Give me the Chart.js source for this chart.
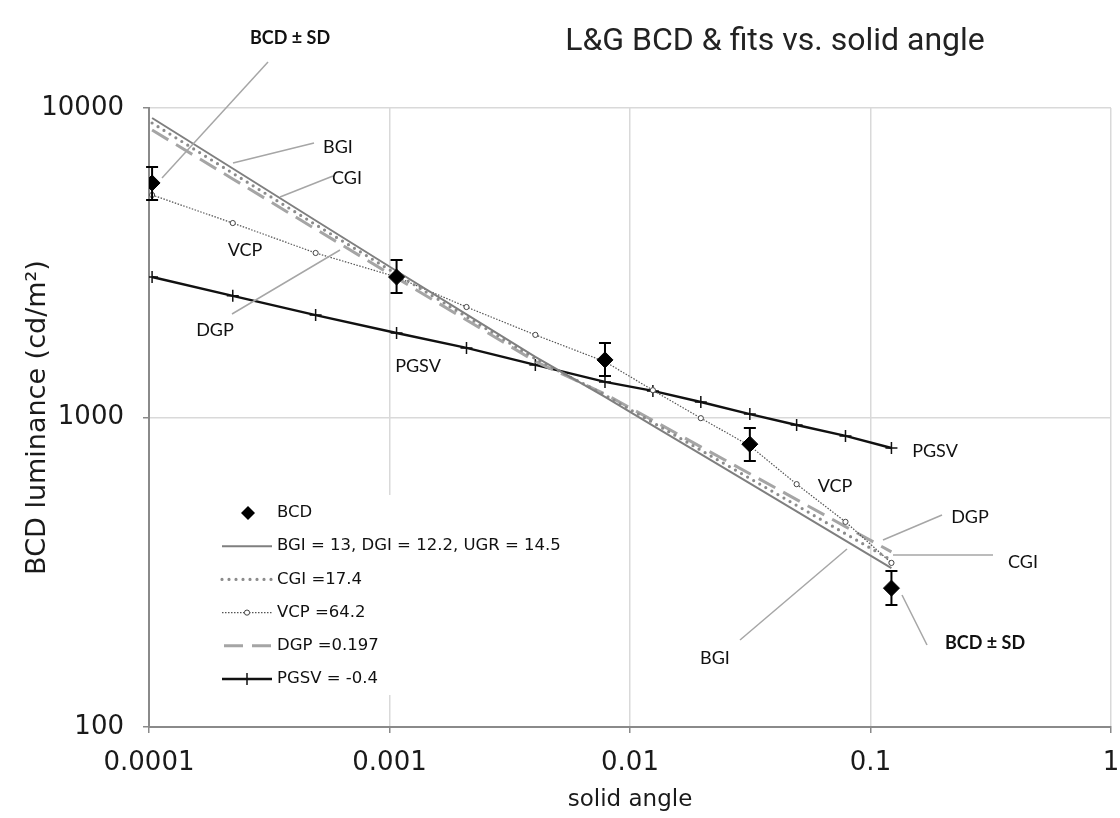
<!DOCTYPE html>
<html>
<head>
<meta charset="utf-8">
<script src="https://cdn.jsdelivr.net/npm/chart.js@4.4.1/dist/chart.umd.min.js"></script>
<style>
  html, body { margin: 0; padding: 0; background: #fff; }
</style>
</head>
<body>
<canvas id="chart" width="1120" height="818"></canvas>
<script>
// solid angles at which the fits are evaluated
const solidAngle = [1.03e-4, 2.23e-4, 4.93e-4, 1.07e-3, 2.09e-3, 4.04e-3, 7.87e-3, 0.01245, 0.0197, 0.0315, 0.0493, 0.0787, 0.1222];
const bgi  = [9284, 6375, 4330, 2974, 2154, 1569, 1165, 941, 761, 613, 497, 400, 326];
const cgi  = [8944, 6156, 4198, 2908, 2117, 1548, 1182, 963, 784, 636, 520, 421, 346];
const vcp  = [5236, 4249, 3401, 2844, 2275, 1849, 1515, 1225, 995, 810, 609, 460, 339];
const dgp  = [8489, 5900, 4062, 2823, 2065, 1518, 1191, 979, 804, 658, 543, 444, 368];
const pgsv = [2844, 2472, 2143, 1875, 1678, 1479, 1303, 1219, 1122, 1026, 946, 872, 797];

// measured BCD with +/- SD
const bcdAngle = [1.03e-4, 1.07e-3, 7.87e-3, 0.0315, 0.1222];
const bcd   = [5725, 2843, 1535, 820, 281];
const bcdHi = [6450, 3228, 1741, 925, 319];
const bcdLo = [5045, 2523, 1361, 723, 248];

const xTicks = [0.0001, 0.001, 0.01, 0.1, 1];
const xLabels = ['0.0001', '0.001', '0.01', '0.1', '1'];
const yTicks = [100, 1000, 10000];
const yLabels = ['100', '1000', '10000'];

const legendLabels = ['BCD', 'BGI = 13, DGI = 12.2, UGR = 14.5', 'CGI =17.4', 'VCP =64.2', 'DGP =0.197', 'PGSV = -0.4'];

const pts = (xs, ys) => xs.map((x, i) => ({ x: x, y: ys[i] }));

const tickFont = { family: 'DejaVu Sans', size: 26 };
const labelFont = '18px Lato, "Open Sans", sans-serif';
const boldFont = 'bold 18px Lato, "Open Sans", sans-serif';

// callout labels with leader lines (canvas px)
const callouts = [
    { text: 'BCD ± SD', x: 290, y: 38, bold: true, line: [268, 62, 162, 178] },
    { text: 'BGI', x: 338, y: 147, line: [314, 143, 233, 163] },
    { text: 'CGI', x: 347, y: 178, line: [333, 176, 280, 197] },
    { text: 'VCP', x: 245, y: 250 },
    { text: 'DGP', x: 215, y: 330, line: [232, 314, 340, 250] },
    { text: 'PGSV', x: 418, y: 366 },
    { text: 'PGSV', x: 935, y: 451 },
    { text: 'VCP', x: 835, y: 486 },
    { text: 'DGP', x: 970, y: 517, line: [942, 515, 883, 540] },
    { text: 'CGI', x: 1023, y: 562, line: [893, 555, 993, 555] },
    { text: 'BGI', x: 715, y: 658, line: [847, 549, 740, 640] },
    { text: 'BCD ± SD', x: 985, y: 643, bold: true, line: [902, 595, 927, 645] }
];

const errorBars = {
    id: 'errorBars',
    afterDatasetsDraw(chart) {
        const { ctx, scales: { x, y } } = chart;
        ctx.save();
        ctx.strokeStyle = '#000';
        ctx.lineWidth = 2;
        bcdAngle.forEach((a, i) => {
            const px = x.getPixelForValue(a);
            const hi = y.getPixelForValue(bcdHi[i]);
            const lo = y.getPixelForValue(bcdLo[i]);
            ctx.beginPath();
            ctx.moveTo(px, hi); ctx.lineTo(px, lo);
            ctx.moveTo(px - 6, hi); ctx.lineTo(px + 6, hi);
            ctx.moveTo(px - 6, lo); ctx.lineTo(px + 6, lo);
            ctx.stroke();
        });
        ctx.restore();
    }
};

const legendBox = {
    id: 'legendBox',
    afterDatasetsDraw(chart) {
        const ctx = chart.ctx;
        const sets = chart.data.datasets;
        ctx.save();
        ctx.fillStyle = '#fff';
        ctx.fillRect(205, 495, 370, 200);
        ctx.font = '16.5px "DejaVu Sans"';
        ctx.textBaseline = 'middle';
        legendLabels.forEach((t, i) => {
            const yy = 513 + i * 33.2;
            const ds = sets[i];
            if (i === 0) {
                ctx.fillStyle = '#000';
                ctx.beginPath();
                ctx.moveTo(248, yy - 7); ctx.lineTo(255, yy); ctx.lineTo(248, yy + 7); ctx.lineTo(241, yy);
                ctx.closePath(); ctx.fill();
            } else {
                ctx.save();
                ctx.strokeStyle = ds.borderColor;
                ctx.lineWidth = ds.borderWidth;
                ctx.lineCap = ds.borderCapStyle || 'butt';
                ctx.setLineDash(ds.borderDash || []);
                ctx.beginPath();
                ctx.moveTo(i === 4 ? 224 : 222, yy); ctx.lineTo(272, yy);
                ctx.stroke();
                ctx.setLineDash([]);
                if (ds.pointStyle === 'circle' && ds.pointRadius) {
                    ctx.fillStyle = '#fff';
                    ctx.strokeStyle = ds.pointBorderColor;
                    ctx.lineWidth = 1;
                    ctx.beginPath(); ctx.arc(247, yy, 2.6, 0, Math.PI * 2); ctx.fill(); ctx.stroke();
                }
                if (ds.pointStyle === 'cross') {
                    ctx.lineWidth = 1.5;
                    ctx.beginPath(); ctx.moveTo(247, yy - 6); ctx.lineTo(247, yy + 6); ctx.stroke();
                }
                ctx.restore();
            }
            ctx.fillStyle = '#111';
            ctx.fillText(t, 277, yy);
        });
        ctx.restore();
    }
};

const annotations = {
    id: 'annotations',
    afterDraw(chart) {
        const ctx = chart.ctx;
        const area = chart.chartArea;
        ctx.save();
        ctx.strokeStyle = '#a6a6a6';
        ctx.lineWidth = 1.5;
        callouts.forEach(c => {
            if (c.line) {
                ctx.beginPath();
                ctx.moveTo(c.line[0], c.line[1]); ctx.lineTo(c.line[2], c.line[3]);
                ctx.stroke();
            }
        });
        ctx.fillStyle = '#111';
        ctx.textAlign = 'center';
        ctx.textBaseline = 'middle';
        callouts.forEach(c => {
            ctx.font = c.bold ? boldFont : labelFont;
            ctx.fillText(c.text, c.x, c.y);
        });
        // axis titles
        ctx.fillStyle = '#1a1a1a';
        ctx.font = '23px "DejaVu Sans"';
        ctx.fillText('solid angle', (area.left + area.right) / 2, 800);
        ctx.save();
        ctx.translate(38, (area.top + area.bottom) / 2);
        ctx.rotate(-Math.PI / 2);
        ctx.font = '27px "DejaVu Sans"';
        ctx.fillText('BCD luminance (cd/m²)', 0, 0);
        ctx.restore();
        // chart title
        ctx.fillStyle = '#222';
        ctx.font = '32px "Liberation Sans Narrow", Roboto, sans-serif';
        ctx.fillText('L&G BCD & fits vs. solid angle', 775, 42);
        ctx.restore();
    }
};

const ctx = document.getElementById('chart').getContext('2d');
const chart = new Chart(ctx, {
    type: 'scatter',
    data: {
        datasets: [
            {
                label: 'BCD', data: pts(bcdAngle, bcd), showLine: false,
                pointStyle: 'rectRot', pointRadius: 8, backgroundColor: '#000', borderColor: '#000', borderWidth: 1
            },
            {
                label: 'BGI', data: pts(solidAngle, bgi), showLine: true,
                borderColor: '#7f7f7f', borderWidth: 2, pointRadius: 0
            },
            {
                label: 'CGI', data: pts(solidAngle, cgi), showLine: true,
                borderColor: '#8c8c8c', borderWidth: 3.2, borderDash: [0, 7], borderCapStyle: 'round', pointRadius: 0
            },
            {
                label: 'VCP', data: pts(solidAngle, vcp), showLine: true,
                borderColor: '#555', borderWidth: 1.2, borderDash: [1.5, 1.5],
                pointStyle: 'circle', pointRadius: 2.6, pointBackgroundColor: '#fff', pointBorderColor: '#444', pointBorderWidth: 1
            },
            {
                label: 'DGP', data: pts(solidAngle, dgp), showLine: true,
                borderColor: '#a5a5a5', borderWidth: 3, borderDash: [19, 9], pointRadius: 0
            },
            {
                label: 'PGSV', data: pts(solidAngle, pgsv), showLine: true,
                borderColor: '#111', borderWidth: 2.4,
                pointStyle: 'cross', pointRadius: 6, pointBorderColor: '#111', pointBorderWidth: 1.5
            }
        ]
    },
    options: {
        responsive: false,
        animation: false,
        layout: { padding: { top: 108, right: 1, left: 0, bottom: 0 } },
        plugins: { legend: { display: false }, tooltip: { enabled: false } },
        scales: {
            x: {
                type: 'logarithmic', min: 0.0001, max: 1,
                afterFit(s) { s.height = 91; s.paddingRight = 0; s.paddingLeft = 0; },
                afterBuildTicks(s) { s.ticks = xTicks.map(v => ({ value: v })); },
                ticks: {
                    callback: v => xLabels[xTicks.indexOf(v)],
                    font: tickFont, color: '#1a1a1a', padding: 15, maxRotation: 0, autoSkip: false
                },
                grid: { color: '#d9d9d9', lineWidth: 1.5, tickLength: 6, tickColor: '#8a8a8a' },
                border: { color: '#8a8a8a', width: 2 }
            },
            y: {
                type: 'logarithmic', min: 100, max: 10000,
                afterFit(s) { s.width = 149; },
                afterBuildTicks(s) { s.ticks = yTicks.map(v => ({ value: v })); },
                ticks: {
                    callback: v => yLabels[yTicks.indexOf(v)],
                    font: tickFont, color: '#1a1a1a', padding: 19, autoSkip: false
                },
                grid: { color: '#d9d9d9', lineWidth: 1.5, tickLength: 6, tickColor: '#8a8a8a' },
                border: { color: '#8a8a8a', width: 2 }
            }
        }
    },
    plugins: [errorBars, legendBox, annotations]
});
</script>
</body>
</html>
